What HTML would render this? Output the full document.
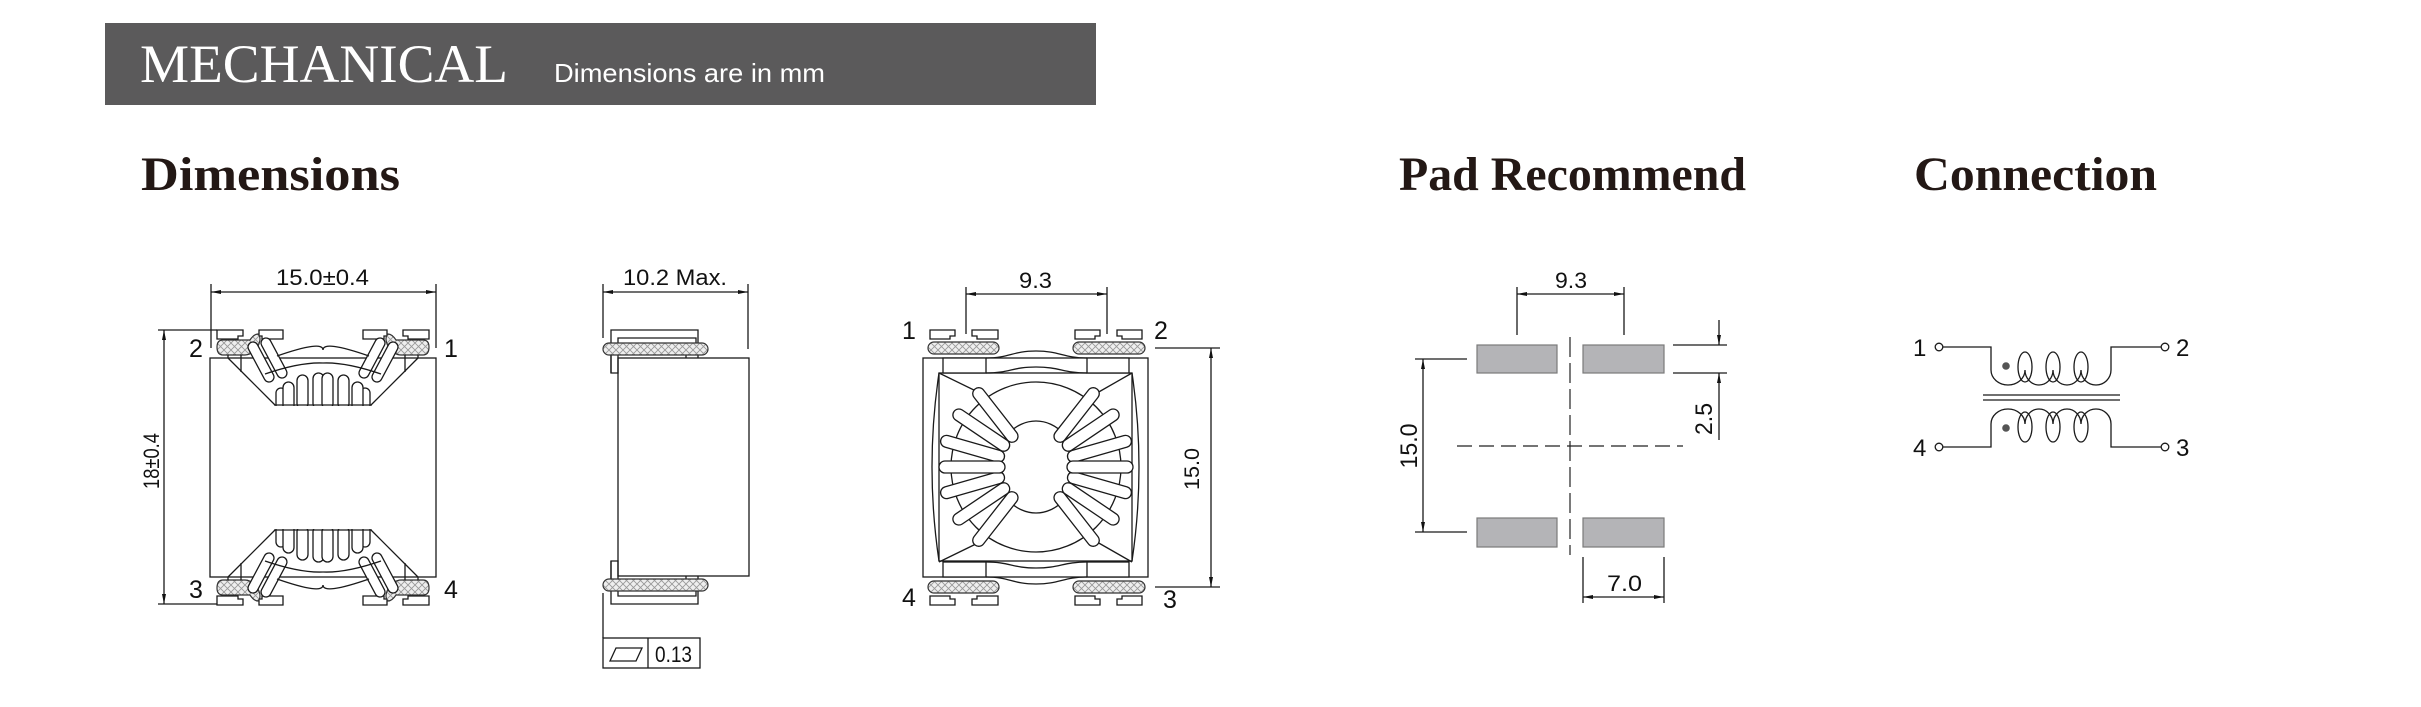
<!DOCTYPE html>
<html><head><meta charset="utf-8"><style>
html,body{margin:0;padding:0;background:#fff;}
svg{display:block;}
.l{fill:none;stroke:#1a1a1a;stroke-width:1.3;}
.w{fill:#fff;stroke:#1a1a1a;stroke-width:1.3;}
.h{fill:url(#hat);stroke:#333;stroke-width:1.2;}
.t{font-family:"Liberation Sans",sans-serif;fill:#111;}
.hd{font-family:"Liberation Serif",serif;font-weight:bold;fill:#231815;font-size:48px;}
</style></head><body>
<svg width="2421" height="707" viewBox="0 0 2421 707" xmlns="http://www.w3.org/2000/svg">
<defs>
<pattern id="hat" width="7" height="7" patternUnits="userSpaceOnUse">
<rect width="7" height="7" fill="#eee"/>
<path d="M0,0 L7,7 M7,0 L0,7" stroke="#999" stroke-width="0.9"/>
</pattern>
<marker id="a" viewBox="0 0 10 4" refX="10" refY="2" markerWidth="10" markerHeight="4" markerUnits="userSpaceOnUse" orient="auto-start-reverse">
<path d="M0,0 L10,2 L0,4z" fill="#111"/>
</marker>
</defs>

<!-- banner -->
<rect x="105" y="23" width="991" height="82" fill="#5b5a5b"/>
<text x="140" y="82" font-family="Liberation Serif,serif" font-size="54" fill="#fff" textLength="368" lengthAdjust="spacingAndGlyphs">MECHANICAL</text>
<text x="554" y="82" class="t" font-size="26" fill="#fff" style="fill:#fff" textLength="271" lengthAdjust="spacingAndGlyphs">Dimensions are in mm</text>

<text x="141" y="190" class="hd" textLength="259" lengthAdjust="spacingAndGlyphs">Dimensions</text>
<text x="1399" y="190" class="hd" textLength="347" lengthAdjust="spacingAndGlyphs">Pad Recommend</text>
<text x="1914" y="190" class="hd" textLength="243" lengthAdjust="spacingAndGlyphs">Connection</text>

<!-- ===== Drawing 1: front view ===== -->
<g>
<line class="l" x1="211" y1="284" x2="211" y2="348"/>
<line class="l" x1="436" y1="284" x2="436" y2="348"/>
<line class="l" x1="211" y1="292" x2="436" y2="292" marker-start="url(#a)" marker-end="url(#a)"/>
<text x="276" y="285" class="t" font-size="22" textLength="93" lengthAdjust="spacingAndGlyphs">15.0±0.4</text>
<line class="l" x1="158" y1="330" x2="217" y2="330"/>
<line class="l" x1="158" y1="604" x2="243" y2="604"/>
<line class="l" x1="164" y1="330" x2="164" y2="604" marker-start="url(#a)" marker-end="url(#a)"/>
<text transform="translate(159,461) rotate(-90)" text-anchor="middle" class="t" font-size="22" textLength="56" lengthAdjust="spacingAndGlyphs">18±0.4</text>
<rect class="l" x="210" y="358" width="226" height="219"/>
<text x="189" y="357" class="t" font-size="25">2</text>
<text x="444" y="357" class="t" font-size="25">1</text>
<text x="189" y="598" class="t" font-size="25">3</text>
<text x="444" y="598" class="t" font-size="25">4</text>
<g id="fq">
 <g id="fh">
  <path class="w" d="M217,330 H243 V336 H238 V339 H217 Z"/>
  <path class="w" d="M259,330 H283 V339 H262 V336 H259 Z"/>
  <path class="h" d="M223,340 H250 Q254,334 258,334 Q262,338 258,346 Q252,355 245,355 H223 Q217,355 217,347 Q217,340 223,340 Z"/>
  <line class="l" x1="228" y1="355" x2="228" y2="358"/>
  <line class="l" x1="241" y1="355" x2="241" y2="372"/>
  <line class="l" x1="228" y1="358" x2="275" y2="405"/>
  <rect class="w" x="-5" y="-22" width="10" height="44" rx="5" transform="translate(261,362) rotate(-28)"/>
  <rect class="w" x="-5" y="-22" width="10" height="44" rx="5" transform="translate(274,358) rotate(-28)"/>
  <path class="l" d="M277,356 Q323,340 323,350"/>
  <path class="l" d="M265,374 Q300,362 323,363"/>
  <rect class="w" x="276" y="388" width="10" height="30" rx="5"/>
  <rect class="w" x="283" y="382" width="11" height="30" rx="5.5"/>
  <rect class="w" x="297" y="375" width="11" height="34" rx="5.5"/>
  <rect class="w" x="313" y="373" width="11" height="36" rx="5.5"/>
 </g>
 <use href="#fh" transform="translate(646,0) scale(-1,1)"/>
 <line class="l" x1="274" y1="405" x2="372" y2="405" stroke-width="1.6" stroke="#1a1a1a"/>
 <rect x="270" y="406" width="106" height="14" fill="#fff"/>
</g>
<use href="#fq" transform="translate(0,935) scale(1,-1)"/>
</g>

<!-- ===== Drawing 2: side view ===== -->
<g>
<line class="l" x1="603" y1="284" x2="603" y2="338"/>
<line class="l" x1="748" y1="284" x2="748" y2="349"/>
<line class="l" x1="603" y1="292" x2="748" y2="292" marker-start="url(#a)" marker-end="url(#a)"/>
<text x="623" y="285" class="t" font-size="22" textLength="104" lengthAdjust="spacingAndGlyphs">10.2 Max.</text>
<rect class="l" x="618" y="358" width="131" height="218"/>
<g id="st">
<path class="l" d="M611,373 V330 H698 V343 M618,343 V338 H696 V343"/>
<path class="l" d="M611,355 V373 H618 V355 M686,355 V358 M698,355 V358"/>
<rect class="h" x="603" y="343" width="105" height="12" rx="6"/>
</g>
<use href="#st" transform="translate(0,934) scale(1,-1)"/>
<line class="l" x1="603" y1="593" x2="603" y2="638"/>
<rect class="l" x="603" y="638" width="97" height="30"/>
<line class="l" x1="648" y1="638" x2="648" y2="668"/>
<path class="l" d="M616,648 H642 L636,661 H610 Z"/>
<text x="655" y="662" class="t" font-size="22" textLength="37" lengthAdjust="spacingAndGlyphs">0.13</text>
</g>

<!-- ===== Drawing 3: top view ===== -->
<g>
<line class="l" x1="966" y1="287" x2="966" y2="334"/>
<line class="l" x1="1107" y1="287" x2="1107" y2="334"/>
<line class="l" x1="966" y1="294" x2="1107" y2="294" marker-start="url(#a)" marker-end="url(#a)"/>
<text x="1019" y="288" class="t" font-size="22" textLength="33" lengthAdjust="spacingAndGlyphs">9.3</text>
<line class="l" x1="1155" y1="348" x2="1220" y2="348"/>
<line class="l" x1="1155" y1="587" x2="1220" y2="587"/>
<line class="l" x1="1211" y1="348" x2="1211" y2="587" marker-start="url(#a)" marker-end="url(#a)"/>
<text transform="translate(1199,469) rotate(-90)" text-anchor="middle" class="t" font-size="21" textLength="42" lengthAdjust="spacingAndGlyphs">15.0</text>
<text x="902" y="339" class="t" font-size="25">1</text>
<text x="1154" y="339" class="t" font-size="25">2</text>
<text x="902" y="606" class="t" font-size="25">4</text>
<text x="1163" y="608" class="t" font-size="25">3</text>
<rect class="l" x="923" y="358" width="225" height="219"/>
<rect class="w" x="939" y="373" width="193" height="188"/>
<g id="tt">
 <path class="w" d="M930,330 H955 V336 H950 V339 H930 Z"/>
 <path class="w" d="M972,330 H998 V339 H977 V336 H972 Z"/>
 <path class="w" d="M1075,330 H1100 V336 H1095 V339 H1075 Z"/>
 <path class="w" d="M1117,330 H1142 V339 H1122 V336 H1117 Z"/>
 <rect class="h" x="928" y="342" width="71" height="12" rx="6"/>
 <rect class="h" x="1073" y="342" width="72" height="12" rx="6"/>
 <rect class="w" x="943" y="358" width="43" height="15"/>
 <rect class="w" x="1087" y="358" width="42" height="15"/>
 <path class="l" d="M986,358 C1010,358 1012,351 1036,351 C1060,351 1063,358 1087,358"/>
 <path class="l" d="M986,373 C1010,373 1012,367 1036,367 C1060,367 1063,373 1087,373"/>
 <line class="l" x1="939" y1="373" x2="980" y2="393"/>
 <line class="l" x1="1132" y1="373" x2="1097" y2="393"/>
</g>
<use href="#tt" transform="translate(0,935) scale(1,-1)"/>
<path class="l" d="M939,373 Q925,467 939,561"/>
<path class="l" d="M1132,373 Q1146,467 1132,561"/>
<circle class="l" cx="1036" cy="467" r="85"/>
<ellipse class="l" cx="1036" cy="467" rx="40" ry="46"/>
<g transform="translate(1036,467)">
 <g id="wl">
  <rect class="w" x="-33" y="-6" width="66" height="12" rx="6" transform="rotate(52) translate(-66,0)"/>
  <rect class="w" x="-33" y="-6" width="66" height="12" rx="6" transform="rotate(-52) translate(-66,0)"/>
  <rect class="w" x="-33" y="-6" width="66" height="12" rx="6" transform="rotate(34) translate(-66,0)"/>
  <rect class="w" x="-33" y="-6" width="66" height="12" rx="6" transform="rotate(-34) translate(-66,0)"/>
  <rect class="w" x="-33" y="-6" width="66" height="12" rx="6" transform="rotate(16) translate(-66,0)"/>
  <rect class="w" x="-33" y="-6" width="66" height="12" rx="6" transform="rotate(-16) translate(-66,0)"/>
  <rect class="w" x="-33" y="-6" width="66" height="12" rx="6" transform="translate(-64,0)"/>
 </g>
 <use href="#wl" transform="scale(-1,1)"/>
</g>
</g>

<!-- ===== Pad recommend ===== -->
<g>
<line class="l" x1="1517" y1="287" x2="1517" y2="335"/>
<line class="l" x1="1624" y1="287" x2="1624" y2="335"/>
<line class="l" x1="1517" y1="294" x2="1624" y2="294" marker-start="url(#a)" marker-end="url(#a)"/>
<text x="1555" y="288" class="t" font-size="22" textLength="32" lengthAdjust="spacingAndGlyphs">9.3</text>
<g fill="#b4b4b7" stroke="#7a7a7a" stroke-width="1.2">
<rect x="1477" y="345" width="80" height="28"/>
<rect x="1583" y="345" width="81" height="28"/>
<rect x="1477" y="518" width="80" height="29"/>
<rect x="1583" y="518" width="81" height="29"/>
</g>
<line x1="1570" y1="337" x2="1570" y2="555" stroke="#222" stroke-width="1.2" stroke-dasharray="20,6"/>
<line x1="1457" y1="446" x2="1683" y2="446" stroke="#222" stroke-width="1.2" stroke-dasharray="15,7"/>
<line class="l" x1="1415" y1="359" x2="1467" y2="359"/>
<line class="l" x1="1415" y1="532" x2="1467" y2="532"/>
<line class="l" x1="1423" y1="359" x2="1423" y2="532" marker-start="url(#a)" marker-end="url(#a)"/>
<text transform="translate(1417,446) rotate(-90)" text-anchor="middle" class="t" font-size="24" textLength="45" lengthAdjust="spacingAndGlyphs">15.0</text>
<line class="l" x1="1673" y1="345" x2="1727" y2="345"/>
<line class="l" x1="1673" y1="373" x2="1727" y2="373"/>
<line class="l" x1="1719" y1="320" x2="1719" y2="345" marker-end="url(#a)"/>
<line class="l" x1="1719" y1="440" x2="1719" y2="373" marker-end="url(#a)"/>
<text transform="translate(1712,419) rotate(-90)" text-anchor="middle" class="t" font-size="24" textLength="32" lengthAdjust="spacingAndGlyphs">2.5</text>
<line class="l" x1="1583" y1="557" x2="1583" y2="603"/>
<line class="l" x1="1664" y1="557" x2="1664" y2="603"/>
<line class="l" x1="1583" y1="597" x2="1664" y2="597" marker-start="url(#a)" marker-end="url(#a)"/>
<text x="1607" y="591" class="t" font-size="22" textLength="35" lengthAdjust="spacingAndGlyphs">7.0</text>
</g>

<!-- ===== Connection ===== -->
<g>
<text x="1913" y="356" class="t" font-size="24">1</text>
<text x="2176" y="356" class="t" font-size="24">2</text>
<text x="1913" y="456" class="t" font-size="24">4</text>
<text x="2176" y="456" class="t" font-size="24">3</text>
<circle class="w" cx="1939" cy="347" r="3.8"/>
<circle class="w" cx="2165" cy="347" r="3.8"/>
<circle class="w" cx="1939" cy="447" r="3.8"/>
<circle class="w" cx="2165" cy="447" r="3.8"/>
<path class="l" d="M1943,347 H1991 V370 A17,15 0 0 0 2025,370 A14,15 0 0 0 2053,370 A14,15 0 0 0 2081,370 A15,15 0 0 0 2111,370 V347 H2161"/>
<ellipse class="l" cx="2025" cy="367" rx="7" ry="15"/>
<ellipse class="l" cx="2053" cy="367" rx="7" ry="15"/>
<ellipse class="l" cx="2081" cy="367" rx="7" ry="15"/>
<line class="l" x1="1983" y1="395" x2="2120" y2="395"/>
<line class="l" x1="1983" y1="400" x2="2120" y2="400"/>
<path class="l" d="M1943,447 H1991 V424 A17,15 0 0 1 2025,424 A14,15 0 0 1 2053,424 A14,15 0 0 1 2081,424 A15,15 0 0 1 2111,424 V447 H2161"/>
<ellipse class="l" cx="2025" cy="427" rx="7" ry="15"/>
<ellipse class="l" cx="2053" cy="427" rx="7" ry="15"/>
<ellipse class="l" cx="2081" cy="427" rx="7" ry="15"/>
<circle cx="2006" cy="366" r="3.8" fill="#555"/>
<circle cx="2006" cy="428" r="3.8" fill="#555"/>
</g>
</svg>
</body></html>
